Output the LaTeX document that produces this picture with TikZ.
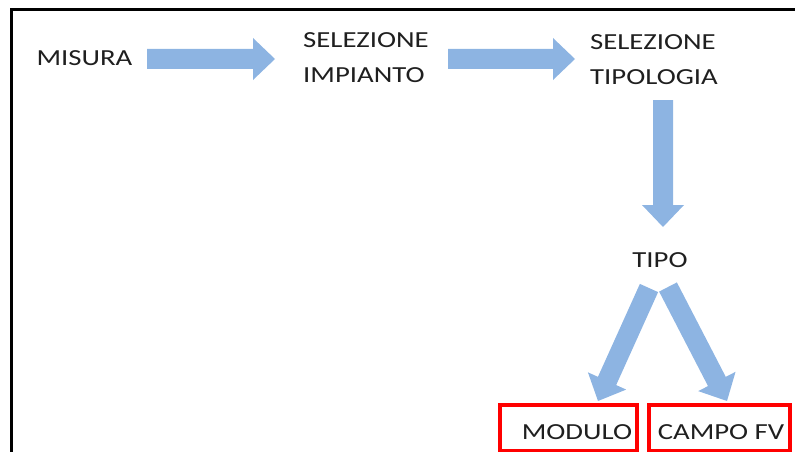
\documentclass[tikz,border=0pt]{standalone}
\usepackage{fontspec}
\newfontfamily\lblfont[FakeStretch=1.25]{Carlito}
\usetikzlibrary{calc}
\definecolor{arrowblue}{HTML}{8DB4E2}
\definecolor{boxred}{HTML}{FF0000}
\newcommand\blockarr[2]{%
  \coordinate (ba-s) at #1;
  \coordinate (ba-t) at #2;
  \coordinate (ba-h) at ($(ba-t)!22pt!(ba-s)$);
  \fill[arrowblue] ($(ba-s)!10pt!90:(ba-t)$) -- ($(ba-h)!10pt!-90:(ba-s)$) --
    ($(ba-h)!21pt!-90:(ba-s)$) -- (ba-t) -- ($(ba-h)!21pt!90:(ba-s)$) --
    ($(ba-h)!10pt!90:(ba-s)$) -- ($(ba-s)!10pt!-90:(ba-t)$) -- cycle;}
\begin{document}
\begin{tikzpicture}[x=1pt,y=-1pt,
  lbl/.style={font=\lblfont\fontsize{23}{35}\selectfont, inner sep=0pt, align=left, text=black!88},
  outbox/.style={draw=boxred, line width=4pt, minimum height=46pt, inner sep=0pt,
    font=\lblfont\fontsize{23}{35}\selectfont, text=black!88}]
\useasboundingbox (0,0) rectangle (795,452);
\draw[line width=3pt] (11,453) -- (11,10) -- (796,10);
\node[lbl] (misura) at (84.5,58.5) {MISURA};
\node[lbl] (sel1) at (366,58) {SELEZIONE\\IMPIANTO};
\node[lbl] (sel2) at (654,59.5) {SELEZIONE\\TIPOLOGIA};
\node[lbl] (tipo) at (660,260.5) {TIPO};
\node[outbox, minimum width=137pt] (modbox) at (568.5,428)
  {\raisebox{-11.6pt}[0pt][0pt]{\hspace*{17pt}MODULO}};
\node[outbox, minimum width=141pt] (cfvbox) at (719.5,428)
  {\raisebox{-11.6pt}[0pt][0pt]{\hspace*{3pt}CAMPO FV}};
\blockarr{($(misura)+(62.5,0.5)$)}{($(sel1)+(-91,1)$)}
\blockarr{($(sel1)+(82,1)$)}{($(sel2)+(-79,-0.5)$)}
\blockarr{($(sel2)+(9,40.5)$)}{($(tipo)+(3,-33.5)$)}
\blockarr{($(tipo)+(-11,27.5)$)}{($(modbox)+(29.5,-27)$)}
\blockarr{($(tipo)+(8,26.5)$)}{($(cfvbox)+(7.5,-27)$)}
\end{tikzpicture}
\end{document}
